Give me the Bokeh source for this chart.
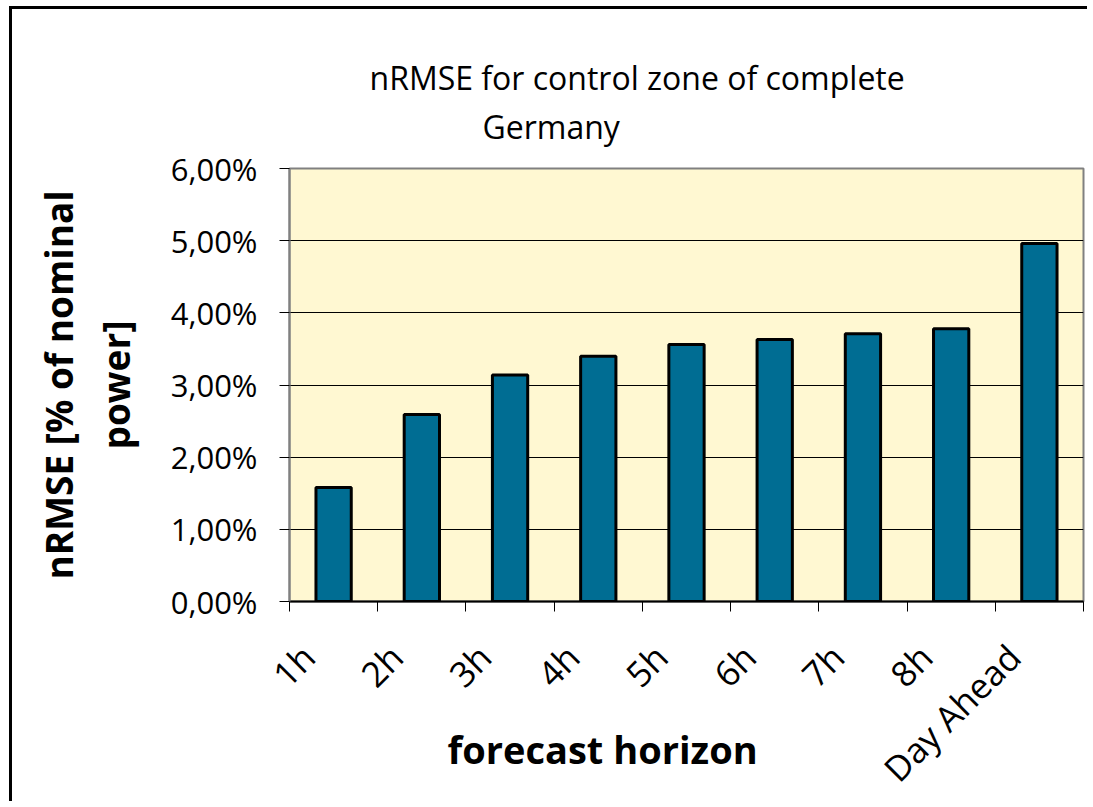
import math
from bokeh.plotting import figure
from bokeh.models import (Range1d, LinearAxis, FixedTicker, Title)
from bokeh.embed import file_html
from bokeh.resources import INLINE

# ---- data ----
categories = ["1h", "2h", "3h", "4h", "5h", "6h", "7h", "8h", "Day Ahead"]
nrmse_pct = [1.58, 2.59, 3.14, 3.40, 3.56, 3.63, 3.71, 3.78, 4.96]
y_ticks = [0, 1, 2, 3, 4, 5, 6]
y_tick_labels = ["0,00%", "1,00%", "2,00%", "3,00%", "4,00%", "5,00%", "6,00%"]
title_lines = ["nRMSE for control zone of complete", "Germany"]
y_label_lines = ["nRMSE [% of nominal", "power]"]
x_label = "forecast horizon"

FONT = "Open Sans"
BAR = "#006D93"
BG = "#FFF8D2"
LABEL_SHIFT = -0.29   # rotated category labels end slightly left of slot centre

n = len(categories)
centers = [i + 0.5 for i in range(n)]      # category slot centres
bounds = list(range(n + 1))                # category slot boundaries
label_pos = [c + LABEL_SHIFT for c in centers]

p = figure(width=1078, height=795,
           x_range=Range1d(0, n),
           y_range=Range1d(y_ticks[0], y_ticks[-1]),
           output_backend="svg", toolbar_location=None,
           x_axis_location=None,
           min_border_left=277, min_border_right=7,
           min_border_top=159, min_border_bottom=203)

p.styles = {"margin-left": "9px", "margin-top": "6px",
            "border-left": "3px solid black", "border-top": "3px solid black"}

p.background_fill_color = BG
p.border_fill_color = "white"
p.outline_line_color = "#808080"
p.outline_line_width = 2

p.vbar(x=centers, top=nrmse_pct, width=0.40, fill_color=BAR,
       line_color="black", line_width=3)

# y axis
ya = p.yaxis[0]
ya.ticker = FixedTicker(ticks=y_ticks)
ya.major_label_overrides = dict(zip(y_ticks, y_tick_labels))
ya.major_tick_out = 10
ya.major_tick_in = 0
ya.minor_tick_out = 0
ya.minor_tick_in = 0
ya.axis_line_color = "#808080"
ya.axis_line_width = 2
ya.major_tick_line_color = "black"
ya.major_label_text_font = FONT
ya.major_label_text_font_size = "31px"
ya.major_label_text_color = "black"
ya.major_label_standoff = 22

p.ygrid.ticker = FixedTicker(ticks=y_ticks)
p.ygrid.grid_line_color = "black"
p.ygrid.grid_line_width = 1
p.xgrid.visible = False

# x tick axis at category boundaries
tick_axis = LinearAxis(ticker=FixedTicker(ticks=bounds),
                       major_tick_out=10, major_tick_in=0,
                       minor_tick_out=0, minor_tick_in=0,
                       axis_line_color="black", axis_line_width=2,
                       major_tick_line_color="black",
                       major_label_text_font_size="1px",
                       major_label_text_alpha=0,
                       major_label_standoff=0)
p.add_layout(tick_axis, "below")

# category label axis, carrying the x axis title (pulled up beside the labels)
lab_axis = LinearAxis(ticker=FixedTicker(ticks=label_pos),
                      major_label_overrides=dict(zip(label_pos, categories)),
                      major_tick_out=0, major_tick_in=0,
                      minor_tick_out=0, minor_tick_in=0,
                      axis_line_color=None,
                      major_label_orientation=math.pi / 4,
                      major_label_text_font=FONT,
                      major_label_text_font_size="35px",
                      major_label_text_color="black",
                      major_label_standoff=39,
                      axis_label=x_label + "\u00a0" * 17,
                      axis_label_standoff=-88,
                      axis_label_text_font=FONT,
                      axis_label_text_font_size="38px",
                      axis_label_text_font_style="bold",
                      axis_label_text_color="black")
p.add_layout(lab_axis, "below")

def spacer(side, standoff):
    # invisible (white on white) panel that only reserves space
    p.add_layout(Title(text=".", text_font_size="10px", text_color="white",
                       standoff=standoff), side)

# chart title, two lines (closest to the plot first)
spacer("above", 11)
p.add_layout(Title(text=title_lines[1], align="left", offset=193, standoff=0,
                   text_font=FONT, text_font_size="32px",
                   text_font_style="normal", text_color="black"), "above")
p.add_layout(Title(text=title_lines[0], align="left", offset=80, standoff=8,
                   text_font=FONT, text_font_size="32px",
                   text_font_style="normal", text_color="black"), "above")

# y axis title, two lines (closest first)
spacer("left", 13)
p.add_layout(Title(text=y_label_lines[1], align="center", standoff=8,
                   text_font=FONT, text_font_size="37px",
                   text_font_style="bold", text_color="black"), "left")
p.add_layout(Title(text=y_label_lines[0], align="center", standoff=0,
                   text_font=FONT, text_font_size="37px",
                   text_font_style="bold", text_color="black"), "left")

open("out.html", "w").write(file_html(p, INLINE))
